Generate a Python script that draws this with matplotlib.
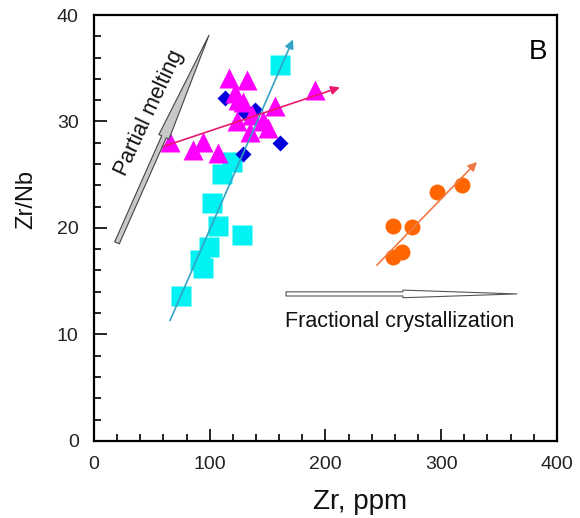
import matplotlib
matplotlib.use("Agg")
from matplotlib import pyplot as plt
from matplotlib.patches import FancyArrowPatch
from matplotlib.ticker import MultipleLocator

plt.rcParams['font.family'] = ['Liberation Sans', 'DejaVu Sans']

# data (Zr ppm, Zr/Nb)
sq_zr = [160.7, 110.6, 119.2, 102.0, 107.0, 128.0, 99.4, 91.6, 94.2, 75.2]
sq_ratio = [35.3, 25.1, 26.2, 22.3, 20.2, 19.3, 18.2, 17.0, 16.2, 13.6]

dia_zr = [113.2, 130.5, 139.1, 160.7, 128.7]
dia_ratio = [32.2, 30.8, 31.1, 28.0, 26.9]

tri_zr = [116.6, 132.2, 121.8, 124.4, 128.7, 136.5, 156.4, 123.5, 134.8, 146.0,
          150.3, 190.9, 94.2, 107.1, 85.5, 65.7]
tri_ratio = [34.1, 33.9, 32.7, 32.0, 31.8, 30.6, 31.5, 30.0, 29.0, 30.0,
             29.4, 33.0, 28.1, 27.0, 27.3, 28.1]

cir_zr = [296.3, 318.0, 258.3, 274.7, 258.3, 266.1]
cir_ratio = [23.4, 24.0, 20.2, 20.1, 17.3, 17.7]

# trend arrows: (start, end)
cyan_trend = [(65.7, 11.3), (172.0, 37.7)]
pink_trend = [(58.7, 27.6), (212.5, 33.2)]
orange_trend = [(244.5, 16.5), (331.0, 26.2)]
melting = [(19.9, 18.6), (99.4, 38.1)]
fractional = [(166.0, 13.8), (365.4, 13.8)]

fig = plt.figure(figsize=(5.8, 5.18), dpi=100)
ax = fig.add_axes([0.162, 0.149, 0.798, 0.822])

ax.plot(sq_zr, sq_ratio, 's', color='#00f2f2', ms=14, mec='none', zorder=2)
ax.plot(dia_zr, dia_ratio, 'D', color='#0000dd', ms=8.5, mec='none', zorder=3)
ax.plot(tri_zr, tri_ratio, '^', color='#ff00ff', ms=15, mec='none', zorder=4)
ax.plot(cir_zr, cir_ratio, 'o', color='#ff6600', ms=11.5, mec='none', zorder=4)

for (p0, p1), c in [(cyan_trend, '#33a3c4'), (pink_trend, '#e8196e'), (orange_trend, '#f07a45')]:
    ax.annotate('', xy=p1, xytext=p0,
                arrowprops=dict(arrowstyle='-|>', color=c, lw=1.2, mutation_scale=13,
                                shrinkA=0, shrinkB=0), zorder=5)

ax.add_patch(FancyArrowPatch(melting[0], melting[1],
                             arrowstyle='simple,head_length=80,head_width=8,tail_width=3.6',
                             mutation_scale=1, fc='#c8c8c8', ec='#444444', lw=0.8,
                             shrinkA=0, shrinkB=0, zorder=6))
ax.add_patch(FancyArrowPatch(fractional[0], fractional[1],
                             arrowstyle='simple,head_length=82,head_width=5.5,tail_width=3',
                             mutation_scale=1, fc='white', ec='#555555', lw=0.8,
                             shrinkA=0, shrinkB=0, zorder=6))

ax.text(47.5, 30.8, 'Partial melting', rotation=65, fontsize=15.5, ha='center', va='center',
        color='#111111', rotation_mode='anchor')
ax.text(264.4, 11.2, 'Fractional crystallization', fontsize=15.5, ha='center', va='center',
        color='#111111')
ax.text(383.6, 36.5, 'B', fontsize=20, ha='center', va='center', color='black')

ax.set_xlim(0, 400)
ax.set_ylim(0, 40)
ax.xaxis.set_major_locator(MultipleLocator(100))
ax.xaxis.set_minor_locator(MultipleLocator(20))
ax.yaxis.set_major_locator(MultipleLocator(10))
ax.yaxis.set_minor_locator(MultipleLocator(2))
ax.tick_params(which='both', direction='in', width=1.2, labelsize=14, labelcolor='#222222')
ax.tick_params(which='major', length=9, pad=11)
ax.tick_params(which='minor', length=5)
for s in ax.spines.values():
    s.set_linewidth(1.6)

ax.set_xlabel('Zr, ppm', fontsize=20, color='#111111')
ax.xaxis.set_label_coords(0.575, -0.112)
ax.set_ylabel('Zr/Nb', fontsize=17, color='#111111')
ax.yaxis.set_label_coords(-0.122, 0.566)

fig.savefig('out.png', dpi=100)
